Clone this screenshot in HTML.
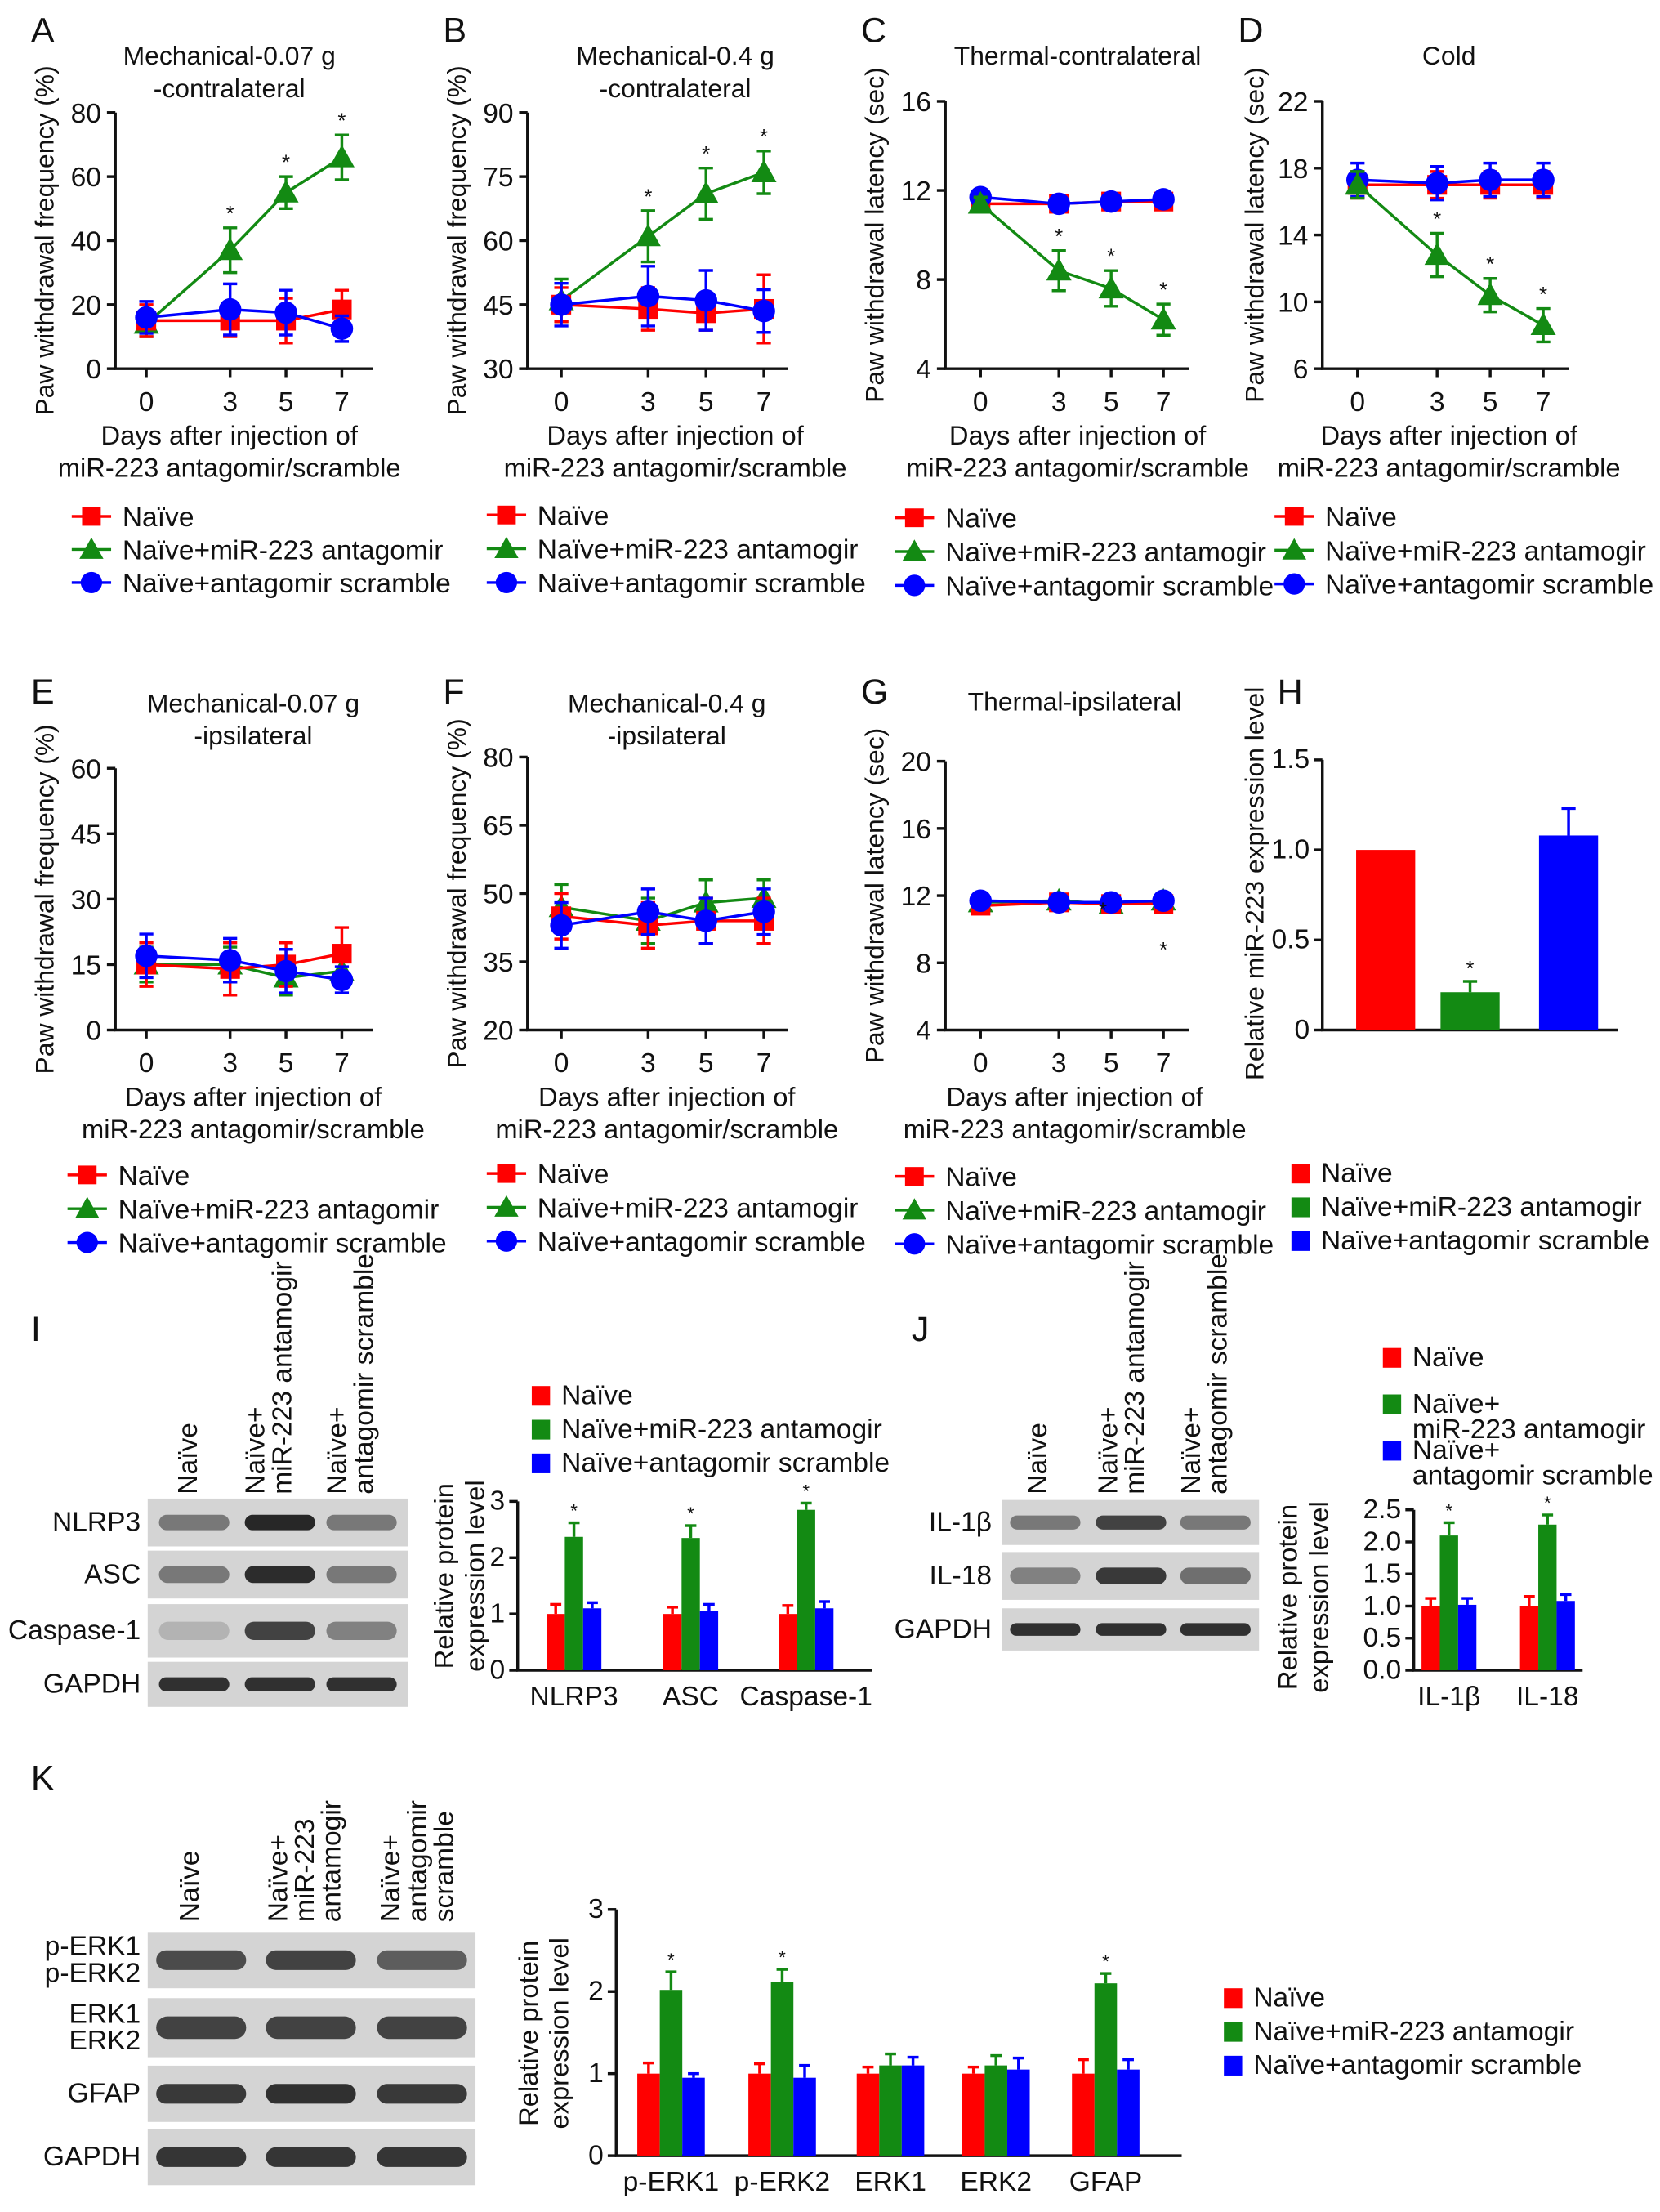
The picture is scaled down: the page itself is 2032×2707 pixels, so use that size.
<!DOCTYPE html>
<html><head><meta charset="utf-8"><style>
html,body{margin:0;padding:0;background:#fff}
svg{display:block}
text{font-family:"Liberation Sans",Arial,sans-serif;fill:#111}
.n{font-family:"Liberation Sans Narrow","Liberation Sans",sans-serif}
</style></head><body>
<svg id="fig" width="2032" height="2707" viewBox="0 0 1180 1572" preserveAspectRatio="none" xmlns="http://www.w3.org/2000/svg"></svg>
<script>
// ---------- data ----------
const days = [0,3,5,7];
const groupNames = ["Naïve","Naïve+miR-223 antagomir","Naïve+antagomir scramble"];
const groupNames2 = ["Naïve","Naïve+miR-223 antamogir","Naïve+antagomir scramble"];
// Panel A
const aNaive=[15,15,15,18.5], aNaiveErr=[5,5,7,6];
const aAnta=[14,37,55,66], aAntaErr=[4,7,5,7];
const aScr=[16,18.5,17.5,12.5], aScrErr=[5,8,7,4];
const aTicks=[0,20,40,60,80];
// Panel B
const bNaive=[45,44,43,44], bNaiveErr=[4,5,4,8];
const bAnta=[46,61,71,76], bAntaErr=[5,6,6,5];
const bScr=[45,47,46,43.5], bScrErr=[5,7,7,5];
const bTicks=[30,45,60,75,90];
// Panel C
const cNaive=[11.4,11.4,11.5,11.5], cNaiveErr=[0.3,0.3,0.3,0.3];
const cAnta=[11.4,8.4,7.6,6.2], cAntaErr=[0.3,0.9,0.8,0.7];
const cScr=[11.7,11.4,11.5,11.6], cScrErr=[0.3,0.3,0.3,0.3];
const cTicks=[4,8,12,16];
// Panel D
const dNaive=[17,17,17,17], dNaiveErr=[0.8,0.8,0.8,0.8];
const dAnta=[17,12.8,10.4,8.6], dAntaErr=[0.8,1.3,1,1];
const dScr=[17.3,17.1,17.3,17.3], dScrErr=[1,1,1,1];
const dTicks=[6,10,14,18,22];
// Panel E
const eNaive=[15,14,15,17.5], eNaiveErr=[5,6,5,6];
const eAnta=[15,15,12,13.5], eAntaErr=[4,4,4,3];
const eScr=[17,16,13.5,11.5], eScrErr=[5,5,5,3];
const eTicks=[0,15,30,45,60];
// Panel F
const fNaive=[45,43,44,44], fNaiveErr=[5,5,5,5];
const fAnta=[47,44,48,49], fAntaErr=[5,5,5,4];
const fScr=[43,46,44,46], fScrErr=[5,5,5,5];
const fTicks=[20,35,50,65,80];
// Panel G
const gNaive=[11.4,11.6,11.5,11.5], gNaiveErr=[0.3,0.3,0.3,0.3];
const gAnta=[11.6,11.7,11.5,11.7], gAntaErr=[0.3,0.3,0.3,0.3];
const gScr=[11.7,11.6,11.6,11.7], gScrErr=[0.3,0.3,0.3,0.3];
const gTicks=[4,8,12,16,20];
// Panel H
const hVals=[1.0,0.21,1.08], hErr=[0,0.06,0.15];
const hTicks=[0,0.5,1.0,1.5];
// Panel I
const iCats=["NLRP3","ASC","Caspase-1"];
const iNaive=[1,1,1], iNaiveErr=[0.17,0.12,0.15];
const iAnta=[2.37,2.35,2.85], iAntaErr=[0.25,0.22,0.12];
const iScr=[1.1,1.05,1.1], iScrErr=[0.1,0.12,0.12];
const iTicks=[0,1,2,3];
// Panel J
const jCats=["IL-1β","IL-18"];
const jNaive=[1,1], jNaiveErr=[0.12,0.15];
const jAnta=[2.1,2.27], jAntaErr=[0.2,0.15];
const jScr=[1.02,1.08], jScrErr=[0.1,0.1];
const jTicks=[0,0.5,1.0,1.5,2.0,2.5];
// Panel K
const kCats=["p-ERK1","p-ERK2","ERK1","ERK2","GFAP"];
const kNaive=[1,1,1,1,1], kNaiveErr=[0.13,0.12,0.08,0.08,0.17];
const kAnta=[2.02,2.12,1.1,1.1,2.1], kAntaErr=[0.22,0.15,0.14,0.12,0.12];
const kScr=[0.95,0.95,1.1,1.05,1.05], kScrErr=[0.05,0.15,0.1,0.14,0.12];
const kTicks=[0,1,2,3];

const RED="#ff0000", GRN="#138a13", BLU="#0000ff";
const FS=18.5;
const svg=document.getElementById('fig');
const NS="http://www.w3.org/2000/svg";
function mk(tag,attrs,parent,txt){const e=document.createElementNS(NS,tag);for(const k in attrs)e.setAttribute(k,attrs[k]);if(txt!==undefined)e.textContent=txt;(parent||svg).appendChild(e);return e;}
function txt(x,y,s,size,anchor,parent,extra){const e=mk('text',Object.assign({x:x,y:y,'font-size':size||FS,'text-anchor':anchor||'middle'},extra||{}),parent,s);return e;}
function grp(name){const g=mk('g',{},svg);return g;}

function marker(g,type,x,y,col,s){
  if(type==='sq')mk('rect',{x:x-7*s,y:y-7*s,width:14*s,height:14*s,fill:col},g);
  else if(type==='tri')mk('polygon',{points:`${x},${y-9*s} ${x-9*s},${y+7*s} ${x+9*s},${y+7*s}`,fill:col},g);
  else mk('circle',{cx:x,cy:y,r:8*s,fill:col},g);
}

function lineChart(o){
  const g=grp(o.name);
  const ys=v=>o.y0+(v-o.vmin)/(o.vmax-o.vmin)*(o.y1-o.y0);
  const xs=d=>o.xd0+(d-days[0])/(days[3]-days[0])*(o.xd1-o.xd0);
  txt(o.ax-60,o.lettery,o.letter,25,'start',g);
  o.title.forEach((t,i)=>txt(o.tx,o.ty+i*23,t,FS,'middle',g));
  mk('line',{x1:o.ax,y1:o.y1,x2:o.ax,y2:o.y0,stroke:'#111','stroke-width':2},g);
  mk('line',{x1:o.ax-1,y1:o.y0,x2:o.axEnd,y2:o.y0,stroke:'#111','stroke-width':2},g);
  o.ticks.forEach(t=>{const y=ys(t);mk('line',{x1:o.ax-6,y1:y,x2:o.ax,y2:y,stroke:'#111','stroke-width':2},g);txt(o.ax-10,y+7,String(t),FS+1,'end',g);});
  days.forEach(d=>{const x=xs(d);mk('line',{x1:x,y1:o.y0,x2:x,y2:o.y0+6,stroke:'#111','stroke-width':2},g);txt(x,o.y0+30,String(d),FS+1,'middle',g);});
  txt(o.tx,o.y0+54,"Days after injection of",FS+0.5,'middle',g);
  txt(o.tx,o.y0+77,"miR-223 antagomir/scramble",FS+0.5,'middle',g);
  txt(0,0,o.ytitle,FS,'middle',g,{transform:`translate(${o.ytx},${(o.y0+o.y1)/2}) rotate(-90)`});
  const series=[[o.naive,o.naiveErr,RED,'sq'],[o.scr,o.scrErr,BLU,'ci'],[o.anta,o.antaErr,GRN,'tri']];
  const order=o.greenTop?[0,1,2]:[2,0,1];
  order.forEach(i=>{const [v,e,c,t]=series[i];
    const sg=mk('g',{},g);
    mk('polyline',{points:v.map((a,j)=>xs(days[j])+','+ys(a)).join(' '),fill:'none',stroke:c,'stroke-width':2},sg);
    v.forEach((a,j)=>{const x=xs(days[j]);mk('line',{x1:x,y1:ys(a-e[j]),x2:x,y2:ys(a+e[j]),stroke:c,'stroke-width':2},sg);
      [a-e[j],a+e[j]].forEach(b=>mk('line',{x1:x-5,y1:ys(b),x2:x+5,y2:ys(b),stroke:c,'stroke-width':2},sg));
      marker(sg,t,x,ys(a),c,1);});
  });
  (o.stars||[]).forEach(j=>{const v=o.anta[j]+(o.starUp?o.antaErr[j]:0);const y=o.starUp?ys(v)-5:ys(v)-(o.starOff||0);txt(xs(days[j]),o.starUp?y:ys(o.anta[j]+o.antaErr[j])-5,'*',15,'middle',g);});
  const L=o.legend;const cols=[RED,GRN,BLU],types=['sq','tri','ci'];
  L.names.forEach((nm,i)=>{const y=L.y+i*L.dy;const lg=mk('g',{},g);
    mk('line',{x1:L.x-14,y1:y,x2:L.x+14,y2:y,stroke:cols[i],'stroke-width':2},lg);marker(lg,types[i],L.x,y,cols[i],0.95);txt(L.x+22,y+7,nm,FS+1,'start',lg);});
}
const YT="Paw withdrawal frequency (%)", YL="Paw withdrawal latency (sec)";
lineChart({name:'panel-a',letter:'A',lettery:30,ax:82,axEnd:265,y0:262,y1:80,vmin:0,vmax:80,ticks:aTicks,xd0:104,xd1:243,tx:163,ty:46,title:["Mechanical-0.07 g","-contralateral"],ytitle:YT,ytx:38,naive:aNaive,naiveErr:aNaiveErr,anta:aAnta,antaErr:aAntaErr,scr:aScr,scrErr:aScrErr,stars:[1,2,3],starUp:true,legend:{x:65,y:367,dy:23.5,names:groupNames}});
lineChart({name:'panel-b',letter:'B',lettery:30,ax:375,axEnd:560,y0:262,y1:80,vmin:30,vmax:90,ticks:bTicks,xd0:399,xd1:543,tx:480,ty:46,title:["Mechanical-0.4 g","-contralateral"],ytitle:YT,ytx:331,naive:bNaive,naiveErr:bNaiveErr,anta:bAnta,antaErr:bAntaErr,scr:bScr,scrErr:bScrErr,stars:[1,2,3],starUp:true,legend:{x:360,y:366,dy:24,names:groupNames2}});
lineChart({name:'panel-c',letter:'C',lettery:30,ax:672,axEnd:845,y0:262,y1:72,vmin:4,vmax:16,ticks:cTicks,xd0:697,xd1:827,tx:766,ty:46,title:["Thermal-contralateral"],ytitle:YL,ytx:628,naive:cNaive,naiveErr:cNaiveErr,anta:cAnta,antaErr:cAntaErr,scr:cScr,scrErr:cScrErr,stars:[1,2,3],starUp:true,greenTop:true,legend:{x:650,y:368,dy:24,names:groupNames2}});
lineChart({name:'panel-d',letter:'D',lettery:30,ax:940,axEnd:1115,y0:262,y1:72,vmin:6,vmax:22,ticks:dTicks,xd0:965,xd1:1097,tx:1030,ty:46,title:["Cold"],ytitle:YL,ytx:898,naive:dNaive,naiveErr:dNaiveErr,anta:dAnta,antaErr:dAntaErr,scr:dScr,scrErr:dScrErr,stars:[1,2,3],starUp:true,greenTop:true,legend:{x:920,y:367,dy:24,names:groupNames2}});
lineChart({name:'panel-e',letter:'E',lettery:500,ax:82,axEnd:265,y0:732,y1:546,vmin:0,vmax:60,ticks:eTicks,xd0:104,xd1:243,tx:180,ty:506,title:["Mechanical-0.07 g","-ipsilateral"],ytitle:YT,ytx:38,naive:eNaive,naiveErr:eNaiveErr,anta:eAnta,antaErr:eAntaErr,scr:eScr,scrErr:eScrErr,legend:{x:62,y:835,dy:24,names:groupNames}});
lineChart({name:'panel-f',letter:'F',lettery:500,ax:375,axEnd:560,y0:732,y1:538,vmin:20,vmax:80,ticks:fTicks,xd0:399,xd1:543,tx:474,ty:506,title:["Mechanical-0.4 g","-ipsilateral"],ytitle:YT,ytx:331,naive:fNaive,naiveErr:fNaiveErr,anta:fAnta,antaErr:fAntaErr,scr:fScr,scrErr:fScrErr,legend:{x:360,y:834,dy:24,names:groupNames2}});
lineChart({name:'panel-g',letter:'G',lettery:500,ax:672,axEnd:845,y0:732,y1:541,vmin:4,vmax:20,ticks:gTicks,xd0:697,xd1:827,tx:764,ty:505,title:["Thermal-ipsilateral"],ytitle:YL,ytx:628,naive:gNaive,naiveErr:gNaiveErr,anta:gAnta,antaErr:gAntaErr,scr:gScr,scrErr:gScrErr,legend:{x:650,y:836,dy:24,names:groupNames2}});
txt(784,652,'*',15,'middle');txt(827,680,'*',15,'middle');

// ---------- bar charts ----------
function barChart(o){
  const g=grp(o.name);
  const ys=v=>o.y0-(v-o.ticks[0])/(o.ticks[o.ticks.length-1]-o.ticks[0])*(o.y0-o.y1);
  mk('line',{x1:o.ax,y1:o.y1,x2:o.ax,y2:o.y0,stroke:'#111','stroke-width':2},g);
  mk('line',{x1:o.ax-1,y1:o.y0,x2:o.axEnd,y2:o.y0,stroke:'#111','stroke-width':2},g);
  o.ticks.forEach(t=>{const y=ys(t);mk('line',{x1:o.ax-6,y1:y,x2:o.ax,y2:y,stroke:'#111','stroke-width':2},g);txt(o.ax-9,y+6,o.fmt?t.toFixed(1):String(t),FS+1,'end',g,o.narrow?{class:'n'}:{});});
  const cols=[RED,GRN,BLU];
  o.series.forEach((s,si)=>{s[0].forEach((v,ci)=>{
    const cx=o.gx[ci]+(si-1)*o.bw, y=ys(v), e=s[1][ci];
    const b=mk('rect',{x:cx-o.bw/2,y:y,width:o.bw,height:o.y0-y,fill:cols[si]},g);
    
    if(e>0){mk('line',{x1:cx,y1:y,x2:cx,y2:ys(v+e),stroke:cols[si],'stroke-width':2},g);mk('line',{x1:cx-4,y1:ys(v+e),x2:cx+4,y2:ys(v+e),stroke:cols[si],'stroke-width':2},g);}
    if(si===1&&o.stars)txt(cx,ys(v+e)-4,'*',13,'middle',g);
  });});
  o.cats.forEach((c,ci)=>txt(o.gx[ci],o.y0+25,c,FS+1,'middle',g,{class:'n'}));
  o.ytitle.forEach((t,i)=>txt(0,0,t,FS+0.5,'middle',g,{transform:`translate(${o.ytx+i*22},${o.yty}) rotate(-90)`,class:o.narrow?'n':''}));
}
function sqLegend(x,y,dy,lines,narrow){
  const g=grp('legend');
  const cols=[RED,GRN,BLU];
  lines.forEach((ls,i)=>{const yy=y+i*dy;mk('rect',{x:x-7,y:yy-13,width:13,height:14,fill:cols[i]},g);
    ls.forEach((l,k)=>txt(x+14,yy+k*18,l,FS+1,'start',g,narrow?{class:'n'}:{}));});
}
// H
(function(){
  const g=grp('panel-h');
  txt(908,500,'H',25,'start',g);
  const ax=940,y0=732,y1=540;const ys=v=>y0-v/1.5*(y0-y1);const gx=[985,1045,1115];const cols=[RED,GRN,BLU];
  mk('line',{x1:ax,y1:y1,x2:ax,y2:y0,stroke:'#111','stroke-width':2},g);
  mk('line',{x1:ax-1,y1:y0,x2:1150,y2:y0,stroke:'#111','stroke-width':2},g);
  hTicks.forEach(t=>{const y=ys(t);mk('line',{x1:ax-6,y1:y,x2:ax,y2:y,stroke:'#111','stroke-width':2},g);txt(ax-9,y+6,t===0?'0':t.toFixed(1),FS+1,'end',g);});
  hVals.forEach((v,i)=>{const b=mk('rect',{x:gx[i]-21,y:ys(v),width:42,height:y0-ys(v),fill:cols[i]},g);
    if(hErr[i]>0){mk('line',{x1:gx[i],y1:ys(v),x2:gx[i],y2:ys(v+hErr[i]),stroke:cols[i],'stroke-width':2},g);mk('line',{x1:gx[i]-5,y1:ys(v+hErr[i]),x2:gx[i]+5,y2:ys(v+hErr[i]),stroke:cols[i],'stroke-width':2},g);}});
  txt(gx[1],ys(hVals[1]+hErr[1])-4,'*',15,'middle',g);
  txt(0,0,'Relative miR-223 expression level',FS,'middle',g,{transform:'translate(898,628) rotate(-90)'});
})();
sqLegend(925,840,24,[["Naïve"],["Naïve+miR-223 antamogir"],["Naïve+antagomir scramble"]]);

// I
txt(22,953,'I',25,'start');
barChart({name:'panel-i-chart',ax:368,axEnd:620,y0:1187,y1:1067,ticks:iTicks,gx:[408,491,573],bw:13,cats:iCats,series:[[iNaive,iNaiveErr],[iAnta,iAntaErr],[iScr,iScrErr]],stars:true,ytitle:["Relative protein","expression level"],ytx:322,yty:1120,narrow:true});
sqLegend(385,998,24,[["Naïve"],["Naïve+miR-223 antamogir"],["Naïve+antagomir scramble"]],true);
// J
txt(648,953,'J',25,'start');
barChart({name:'panel-j-chart',ax:1005,axEnd:1125,y0:1187,y1:1073,ticks:jTicks,fmt:true,gx:[1030,1100],bw:13,cats:jCats,series:[[jNaive,jNaiveErr],[jAnta,jAntaErr],[jScr,jScrErr]],stars:true,ytitle:["Relative protein","expression level"],ytx:922,yty:1135,narrow:true});
sqLegend(990,971,33,[["Naïve"],["Naïve+","miR-223 antamogir"],["Naïve+","antagomir scramble"]],true);
// K
txt(22,1272,'K',25,'start');
barChart({name:'panel-k-chart',ax:438,axEnd:840,y0:1532,y1:1357,ticks:kTicks,gx:[477,556,633,708,786],bw:16,cats:kCats,series:[[kNaive,kNaiveErr],[kAnta,kAntaErr],[kScr,kScrErr]],stars:false,ytitle:["Relative protein","expression level"],ytx:382,yty:1445});
[0,1,4].forEach(i=>txt([477,556,633,708,786][i],1357+(3-kAnta[i]-kAntaErr[i])*58.3-4,'*',13,'middle'));
sqLegend(877,1426,24,[["Naïve"],["Naïve+miR-223 antamogir"],["Naïve+antagomir scramble"]]);

// ---------- blots ----------
function blot(name,x0,x1,rows,lanes,laneLabels,labelX){
  const g=grp(name);
  rows.forEach(r=>{
    mk('rect',{x:x0,y:r.y-r.h/2,width:x1-x0,height:r.h,fill:'#d4d4d4'},g);
    r.labels.forEach((l,k)=>txt(labelX,r.y+6+(k-(r.labels.length-1)/2)*19,l,FS+1,'end',g,{class:'n'}));
    lanes.forEach((lx,li)=>{const d=r.dens[li];const lw=(lanes[1]-lanes[0])*0.82;
      mk('rect',{x:lx-lw/2,y:r.y-r.bh/2,width:lw,height:r.bh,rx:r.bh/2,fill:`rgb(${d},${d},${d})`,opacity:0.9},g);});
  });
  laneLabels.forEach(L=>L.lines.forEach((l,k)=>txt(0,0,l,FS+1,'start',g,{transform:`translate(${L.x+k*19},${L.y}) rotate(-90)`})));
}
blot('blot-i',105,290,[
  {y:1082,h:34,bh:11,labels:["NLRP3"],dens:[110,20,110]},
  {y:1119,h:34,bh:12,labels:["ASC"],dens:[110,25,110]},
  {y:1159,h:38,bh:13,labels:["Caspase-1"],dens:[175,50,120]},
  {y:1197,h:32,bh:10,labels:["GAPDH"],dens:[30,30,30]}],
  [138,199,257],[{x:140,y:1062,lines:["Naïve"]},{x:188,y:1062,lines:["Naïve+","miR-223 antamogir"]},{x:246,y:1062,lines:["Naïve+","antagomir scramble"]}],100);
blot('blot-j',712,895,[
  {y:1082,h:32,bh:10,labels:["IL-1β"],dens:[110,50,110]},
  {y:1120,h:34,bh:12,labels:["IL-18"],dens:[120,40,100]},
  {y:1158,h:30,bh:9,labels:["GAPDH"],dens:[30,30,30]}],
  [743,804,864],[{x:744,y:1062,lines:["Naïve"]},{x:794,y:1062,lines:["Naïve+","miR-223 antamogir"]},{x:853,y:1062,lines:["Naïve+","antagomir scramble"]}],705);
blot('blot-k',105,338,[
  {y:1393,h:40,bh:14,labels:["p-ERK1","p-ERK2"],dens:[60,50,80]},
  {y:1441,h:42,bh:16,labels:["ERK1","ERK2"],dens:[50,50,50]},
  {y:1488,h:40,bh:14,labels:["GFAP"],dens:[40,30,40]},
  {y:1533,h:40,bh:14,labels:["GAPDH"],dens:[35,35,35]}],
  [143,221,300],[{x:141,y:1366,lines:["Naïve"]},{x:204,y:1366,lines:["Naïve+","miR-223","antamogir"]},{x:284,y:1366,lines:["Naïve+","antagomir","scramble"]}],100);
</script>
</body></html>
